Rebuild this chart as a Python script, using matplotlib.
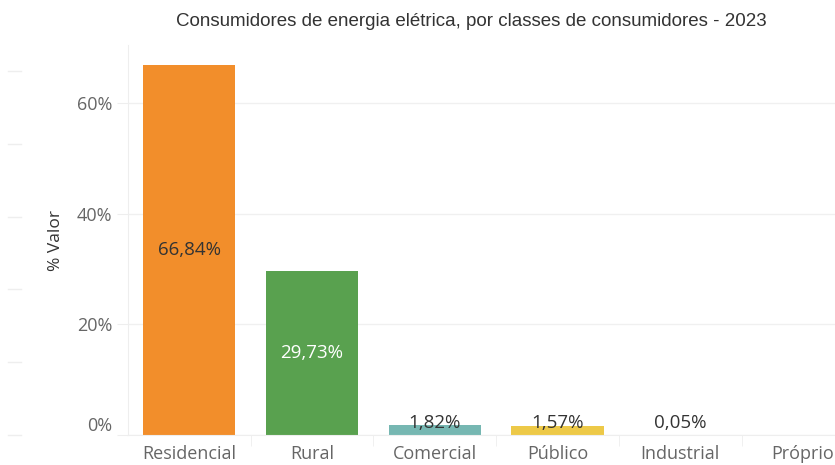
import matplotlib.pyplot as plt
from matplotlib.lines import Line2D

categorias = ["Residencial", "Rural", "Comercial", "Público", "Industrial", "Próprio"]
valores = [66.84, 29.73, 1.82, 1.57, 0.05, 0.0]
rotulos = ["66,84%", "29,73%", "1,82%", "1,57%", "0,05%", ""]
cores = ["#F28E2B", "#59A14F", "#76B7B2", "#EDC948", "#BAB0AC", "#BAB0AC"]
yticks = [0, 20, 40, 60]
ytick_labels = ["0%", "20%", "40%", "60%"]

plt.rcParams['font.family'] = ['Open Sans', 'DejaVu Sans']

fig = plt.figure(figsize=(8.35, 4.65), dpi=100)
ax = fig.add_axes([0.153, 0.0645, 0.847, 0.8385])

x = list(range(len(categorias)))
ax.bar(x, valores, width=0.75, color=cores)

for i, (v, lab) in enumerate(zip(valores, rotulos)):
    if not lab:
        continue
    if v > 20:
        cor = "#333333" if i == 0 else "white"
        ax.text(i, v / 2, lab, ha="center", va="center", fontsize=13.5, color=cor)
    else:
        # rótulos pequenos ficam numa linha fixa logo acima da base
        ax.text(i, 1.2, lab, ha="center", va="baseline", fontsize=13.5, color="#333333")

ax.set_xlim(-0.5, 5.26)
ax.set_ylim(0, 70.5)
ax.set_yticks(yticks)
ax.set_yticklabels(ytick_labels, fontsize=13, color="#666666")
ax.get_yticklabels()[0].set_va("bottom")
ax.set_xticks(x)
ax.set_xticklabels(categorias, fontsize=13, color="#666666")
ax.tick_params(axis="x", length=0, pad=7)
ax.tick_params(axis="y", length=8, color="#eeeeee", pad=3)
ax.set_xticks([i + 0.5 for i in x[:-1]], minor=True)
ax.tick_params(axis="x", which="minor", length=8, color="#eeeeee")

ax.yaxis.grid(True, color="#f0f0f0", linewidth=1)
ax.set_axisbelow(True)
for s in ["top", "right"]:
    ax.spines[s].set_visible(False)
ax.spines["left"].set_color("#eeeeee")
ax.spines["bottom"].set_color("#eeeeee")

ax.set_ylabel("% Valor", fontsize=12.5, color="#333333", labelpad=9)

fig.text(0.564, 0.953, "Consumidores de energia elétrica, por classes de consumidores - 2023",
         ha="center", va="center", fontsize=13.5, family="Liberation Sans", color="#333333")

# marcas laterais claras
for yy in [71, 144, 217, 289, 362, 435]:
    fig.add_artist(Line2D([8 / 835, 21 / 835], [1 - yy / 465] * 2, color="#eeeeee", lw=1))

fig.savefig("out.png", dpi=100)
